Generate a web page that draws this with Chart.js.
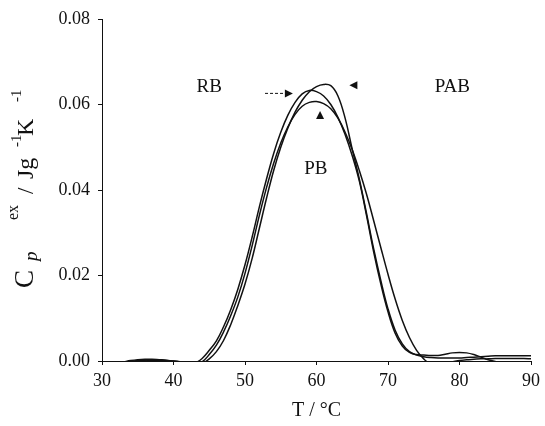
<!DOCTYPE html>
<html>
<head>
<meta charset="utf-8">
<script src="https://cdn.jsdelivr.net/npm/chart.js@4"></script>
<style>
  html, body { margin: 0; padding: 0; background: #fff; }
  #wrap { width: 545px; height: 426px; }
</style>
</head>
<body>
<div id="wrap"><canvas id="c" width="545" height="426"></canvas></div>
<script>
// temperature grid (°C)
var temps = [30,31,32,33,34,35,36,37,38,39,40,41,42,43,44,45,46,47,48,49,
             50,51,52,53,54,55,56,57,58,59,60,61,62,63,64,65,66,67,68,69,
             70,71,72,73,74,75,76,77,78,79,80,81,82,83,84,85,86,87,88,89,90];

// excess heat capacity, J g-1 K-1
var rb = [-0.0010,-0.0008,-0.0005,-0.0002,0.0001,0.0003,0.0004,0.0004,0.0003,0.0002,
          0.0000,-0.0003,-0.0008,-0.0005,0.0006,0.0025,0.0047,0.0080,0.0120,0.0168,
          0.0225,0.0290,0.0360,0.0425,0.0485,0.0535,0.0575,0.0605,0.0625,0.0633,
          0.0630,0.0620,0.0600,0.0570,0.0530,0.0480,0.0420,0.0340,0.0255,0.0180,
          0.0115,0.0065,0.0035,0.0020,0.0015,0.0014,0.0013,0.0013,0.0016,0.0019,
          0.0020,0.0019,0.0015,0.0009,0.0003,-0.0001,-0.0004,-0.0006,-0.0008,-0.0009,-0.0010];

var pb = [-0.0012,-0.0010,-0.0007,-0.0004,-0.0001,0.0001,0.0002,0.0003,0.0002,0.0001,
          0.0000,-0.0002,-0.0006,-0.0008,-0.0002,0.0015,0.0037,0.0068,0.0106,0.0150,
          0.0205,0.0270,0.0340,0.0405,0.0462,0.0510,0.0548,0.0577,0.0596,0.0605,
          0.0607,0.0602,0.0590,0.0568,0.0535,0.0494,0.0445,0.0390,0.0328,0.0265,
          0.0203,0.0145,0.0095,0.0055,0.0025,0.0005,-0.0008,-0.0012,-0.0008,-0.0002,
          0.0001,0.0003,0.0004,0.0005,0.0005,0.0006,0.0006,0.0006,0.0006,0.0006,0.0005];

var pab = [-0.0015,-0.0013,-0.0011,-0.0008,-0.0005,-0.0003,0.0000,0.0001,0.0001,0.0000,
           -0.0002,-0.0005,-0.0009,-0.0010,-0.0006,0.0005,0.0022,0.0048,0.0085,0.0130,
           0.0180,0.0240,0.0310,0.0380,0.0445,0.0500,0.0545,0.0582,0.0610,0.0630,
           0.0642,0.0647,0.0644,0.0620,0.0568,0.0495,0.0425,0.0345,0.0262,0.0188,
           0.0122,0.0072,0.0040,0.0022,0.0014,0.0010,0.0008,0.0007,0.0007,0.0007,
           0.0007,0.0008,0.0009,0.0010,0.0011,0.0012,0.0012,0.0012,0.0012,0.0012,0.0012];

var xTicks = [30, 40, 50, 60, 70, 80, 90];
var yTicks = [0, 0.02, 0.04, 0.06, 0.08];

// curve labels and markers, in data units
var labels = [
  { text: 'RB',  t: 45.0, v: 0.0642 },
  { text: 'PAB', t: 79.0, v: 0.0642 },
  { text: 'PB',  t: 59.9, v: 0.0449 }
];

function pts(vals) {
  return temps.map(function (t, i) { return { x: t, y: vals[i] }; });
}

var serif = "'Liberation Serif', 'DejaVu Serif', serif";
var ink = '#111';

var lineStyle = {
  borderColor: ink,
  borderWidth: 1.5,
  pointRadius: 0,
  fill: false,
  tension: 0.4
};

var extras = {
  id: 'extras',
  afterDatasetsDraw: function (chart) {
    var ctx = chart.ctx;
    var xs = chart.scales.x, ys = chart.scales.y;
    ctx.save();
    ctx.fillStyle = ink;
    ctx.strokeStyle = ink;
    ctx.font = '19px ' + serif;
    ctx.textAlign = 'center';
    ctx.textBaseline = 'middle';
    labels.forEach(function (l) {
      ctx.fillText(l.text, xs.getPixelForValue(l.t), ys.getPixelForValue(l.v));
    });

    // dashed arrow pointing at RB peak
    var ay = ys.getPixelForValue(0.0626);
    var ax0 = xs.getPixelForValue(52.8), ax1 = xs.getPixelForValue(56.7);
    ctx.lineWidth = 1;
    ctx.setLineDash([3, 2]);
    ctx.beginPath(); ctx.moveTo(ax0, ay); ctx.lineTo(ax1 - 7, ay); ctx.stroke();
    ctx.setLineDash([]);
    ctx.beginPath();
    ctx.moveTo(ax1, ay); ctx.lineTo(ax1 - 8, ay - 4); ctx.lineTo(ax1 - 8, ay + 4);
    ctx.closePath(); ctx.fill();

    // left pointing head for PAB
    var lx = xs.getPixelForValue(64.6), ly = ys.getPixelForValue(0.0645);
    ctx.beginPath();
    ctx.moveTo(lx, ly); ctx.lineTo(lx + 8, ly - 4); ctx.lineTo(lx + 8, ly + 4);
    ctx.closePath(); ctx.fill();

    // upward head for PB
    var ux = xs.getPixelForValue(60.5), uy = ys.getPixelForValue(0.0585);
    ctx.beginPath();
    ctx.moveTo(ux, uy); ctx.lineTo(ux - 4, uy + 8); ctx.lineTo(ux + 4, uy + 8);
    ctx.closePath(); ctx.fill();
    ctx.restore();
  },
  afterDraw: function (chart) {
    var ctx = chart.ctx;
    ctx.save();
    ctx.fillStyle = ink;
    // x title
    ctx.font = '20px ' + serif;
    ctx.textAlign = 'center';
    ctx.textBaseline = 'alphabetic';
    ctx.fillText('T / \u00B0C', (chart.chartArea.left + chart.chartArea.right) / 2, 416);

    // y title, rotated, built from pieces
    ctx.translate(33, 288);
    ctx.rotate(-Math.PI / 2);
    ctx.textAlign = 'left';
    var parts = [
      { s: 'C',  f: '27px ' + serif, u: 0,   v: 0 },
      { s: 'p',  f: 'italic 19px ' + serif, u: 27, v: 4 },
      { s: 'ex', f: '16px ' + serif, u: 68,  v: -15 },
      { s: '/',  f: '23px ' + serif, u: 94,  v: 0 },
      { s: 'Jg', f: '24px ' + serif, u: 109, v: 0 },
      { s: '-1', f: '15px ' + serif, u: 141, v: -12 },
      { s: 'K',  f: '24px ' + serif, u: 152, v: 0 },
      { s: '-1', f: '15px ' + serif, u: 186, v: -12 }
    ];
    parts.forEach(function (p) {
      ctx.font = p.f;
      ctx.fillText(p.s, p.u, p.v);
    });
    ctx.restore();
  }
};

new Chart(document.getElementById('c'), {
  type: 'line',
  data: {
    datasets: [
      Object.assign({ label: 'RB', data: pts(rb) }, lineStyle),
      Object.assign({ label: 'PB', data: pts(pb) }, lineStyle),
      Object.assign({ label: 'PAB', data: pts(pab) }, lineStyle)
    ]
  },
  options: {
    responsive: false,
    animation: false,
    layout: { padding: { top: 19, right: 10, left: 0, bottom: 0 } },
    plugins: { legend: { display: false }, tooltip: { enabled: false } },
    scales: {
      x: {
        type: 'linear',
        min: 30, max: 90,
        afterFit: function (s) { s.height = 65; },
        afterBuildTicks: function (s) { s.ticks = xTicks.map(function (v) { return { value: v }; }); },
        grid: { drawOnChartArea: false, drawTicks: true, tickLength: 4, color: ink },
        border: { color: ink, width: 1 },
        ticks: { color: ink, font: { family: serif, size: 18 }, padding: 5, maxRotation: 0 }
      },
      y: {
        min: 0, max: 0.08,
        afterFit: function (s) { s.width = 102; },
        afterBuildTicks: function (s) { s.ticks = yTicks.map(function (v) { return { value: v }; }); },
        grid: { drawOnChartArea: false, drawTicks: true, tickLength: 4, color: ink },
        border: { color: ink, width: 1 },
        ticks: {
          color: ink, font: { family: serif, size: 18 }, padding: 8,
          callback: function (v) { return v.toFixed(2); }
        }
      }
    }
  },
  plugins: [extras]
});
</script>
</body>
</html>
